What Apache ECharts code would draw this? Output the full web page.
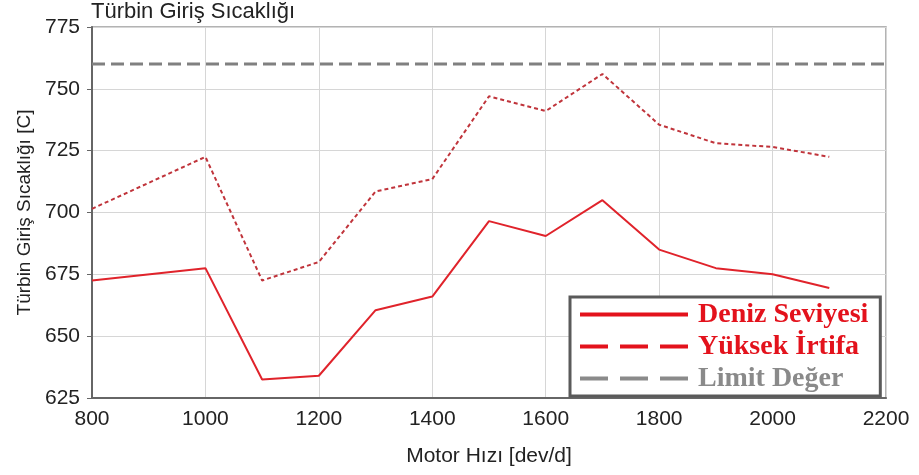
<!DOCTYPE html>
<html>
<head>
<meta charset="utf-8">
<script src="https://cdn.jsdelivr.net/npm/echarts@6/dist/echarts.min.js"></script>
<style>
  html, body { margin: 0; padding: 0; background: #fff; }
  #chart { width: 919px; height: 475px; }
</style>
</head>
<body>
<div id="chart"></div>
<script>
// Motor speed (dev/d)
const speeds = [800, 1000, 1100, 1200, 1300, 1400, 1500, 1600, 1700, 1800, 1900, 2000, 2100];
// Turbine inlet temperature at sea level [C]
const seaLevel = [672.5, 677.5, 632.5, 634, 660.5, 666, 696.5, 690.5, 705, 685, 677.5, 675, 669.5];
// Turbine inlet temperature at high altitude [C]
const highAltitude = [701.5, 722.5, 672.5, 680, 708.5, 713.5, 747, 741, 756, 735.5, 728, 726.5, 722.5];
// Temperature limit and the speed span it covers
const limitValue = 760;
const limitSpan = [800, 2200];

const seriesNames = ['Deniz Seviyesi', 'Yüksek İrtifa', 'Limit Değer'];

const pair = (xs, ys) => xs.map((x, i) => [x, ys[i]]);

const font = 'Liberation Sans, Arial, sans-serif';
const chart = echarts.init(document.getElementById('chart'));

chart.setOption({
  animation: false,
  backgroundColor: '#ffffff',
  title: {
    text: 'Türbin Giriş Sıcaklığı',
    left: 91,
    top: 1,
    padding: 0,
    textStyle: { fontFamily: font, fontSize: 22, fontWeight: 'normal', color: '#222' }
  },
  grid: {
    left: 92, right: 33, top: 27, bottom: 77,
    show: true,
    borderColor: '#9a9a9a',
    borderWidth: 1.5
  },
  legend: {
    orient: 'vertical',
    left: 570,
    top: 297,
    padding: [3, 12, 3, 8],
    itemGap: 3,
    itemWidth: 108,
    itemHeight: 24,
    borderColor: '#5a5a5a',
    borderWidth: 3,
    backgroundColor: '#ffffff',
    selectedMode: false,
    itemStyle: { opacity: 0 },
    textStyle: {
      fontFamily: 'Liberation Serif, Times New Roman, serif',
      fontSize: 28,
      fontWeight: 'bold',
      lineHeight: 29,
      padding: [0, 0, 0, 5]
    },
    data: [
      { name: seriesNames[0], textStyle: { color: '#e3121c' },
        itemStyle: { opacity: 0 },
        lineStyle: { color: '#e3121c', width: 4, type: 'solid' } },
      { name: seriesNames[1], textStyle: { color: '#e3121c' },
        itemStyle: { opacity: 0 },
        lineStyle: { color: '#e3121c', width: 4, type: [28, 12] } },
      { name: seriesNames[2], textStyle: { color: '#8a8a8a' },
        itemStyle: { opacity: 0 },
        lineStyle: { color: '#8a8a8a', width: 4, type: [28, 12] } }
    ]
  },
  xAxis: {
    type: 'value',
    min: 800,
    max: 2200,
    interval: 200,
    name: 'Motor Hızı [dev/d]',
    nameLocation: 'middle',
    nameGap: 48,
    nameTextStyle: { fontFamily: font, fontSize: 21, color: '#222' },
    axisLine: { show: true, onZero: false, lineStyle: { color: '#666', width: 2 } },
    axisTick: { show: false },
    axisLabel: { fontFamily: font, fontSize: 21, color: '#222', margin: 11, formatter: v => String(v) },
    splitLine: { show: true, lineStyle: { color: '#d6d6d6', width: 1 } }
  },
  yAxis: {
    type: 'value',
    min: 625,
    max: 775,
    interval: 25,
    name: 'Türbin Giriş Sıcaklığı [C]',
    nameLocation: 'middle',
    nameGap: 55,
    nameTextStyle: { fontFamily: font, fontSize: 19, color: '#222' },
    axisLine: { show: true, lineStyle: { color: '#666', width: 2 } },
    axisTick: { show: true, length: 5, lineStyle: { color: '#666' } },
    axisLabel: { fontFamily: font, fontSize: 21, color: '#222', margin: 12, formatter: v => String(v) },
    splitLine: { show: true, lineStyle: { color: '#d6d6d6', width: 1 } }
  },
  series: [
    {
      name: seriesNames[0],
      type: 'line',
      data: pair(speeds, seaLevel),
      symbol: 'none',
      lineStyle: { color: '#e0232b', width: 2, type: 'solid' },
      itemStyle: { color: '#e0232b' },
      z: 3
    },
    {
      name: seriesNames[1],
      type: 'line',
      data: pair(speeds, highAltitude),
      symbol: 'none',
      lineStyle: { color: '#c0343b', width: 2, type: [4, 3] },
      itemStyle: { color: '#e3121c' },
      z: 3
    },
    {
      name: seriesNames[2],
      type: 'line',
      data: pair(limitSpan, [limitValue, limitValue]),
      symbol: 'none',
      lineStyle: { color: '#808080', width: 3, type: [13, 6] },
      itemStyle: { color: '#8a8a8a' },
      z: 2
    }
  ]
});
</script>
</body>
</html>
